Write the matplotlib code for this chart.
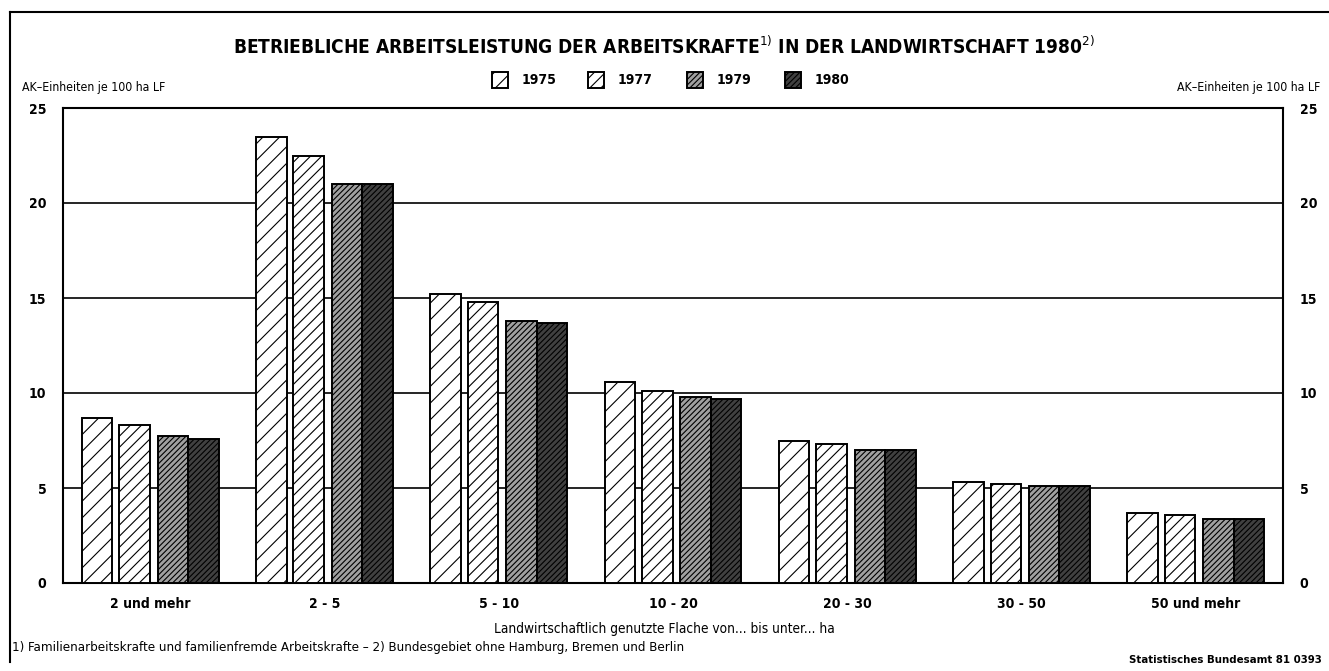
import numpy as np
import matplotlib.pyplot as plt
from matplotlib.patches import Rectangle
from matplotlib.lines import Line2D

plt.rcParams['font.family'] = ['DejaVu Sans']
plt.rcParams['font.stretch'] = 'condensed'
plt.rcParams['hatch.linewidth'] = 0.8

# ==================================================
# Data
# ==================================================

categories = ["2 und mehr", "2 - 5", "5 - 10", "10 - 20", "20 - 30", "30 - 50", "50 und mehr"]
years = ["1975", "1977", "1979", "1980"]

v1975 = [8.7, 23.5, 15.2, 10.6, 7.5, 5.3, 3.7]
v1977 = [8.3, 22.5, 14.8, 10.1, 7.3, 5.2, 3.6]
v1979 = [7.75, 21.0, 13.8, 9.8, 7.0, 5.1, 3.35]
v1980 = [7.6, 21.0, 13.7, 9.7, 7.0, 5.1, 3.35]

yticks = [0, 5, 10, 15, 20, 25]

# ==================================================
# Styles
# ==================================================

series = [v1975, v1977, v1979, v1980]
offsets = [-0.305, -0.09, 0.13, 0.305]
hatches = ["//", "///", "//////", "//////"]
faces = ["white", "white", "#a0a0a0", "#404040"]
width = 0.175

W, H = 1329, 671
fig = plt.figure(figsize=(W / 100, H / 100), dpi=100)
ax = fig.add_axes([63 / W, 1 - 583 / H, (1283 - 63) / W, (583 - 108) / H])

x = np.arange(len(categories))

for vals, off, hat, fc in zip(series, offsets, hatches, faces):
    ax.bar(
        x + off, vals, width,
        facecolor=fc, edgecolor="black", hatch=hat,
        linewidth=1.4, zorder=3
    )

ax.set_xlim(-0.5, len(categories) - 0.5)
ax.set_ylim(0, 25)
ax.set_yticks(yticks)
ax.set_yticklabels([str(t) for t in yticks])
ax.set_xticks(x)
ax.set_xticklabels(categories)
ax.tick_params(axis="x", length=0, labelsize=10, pad=10)
ax.tick_params(axis="y", length=0, labelsize=10, pad=12, right=True, labelright=True)
for lab in ax.get_yticklabels() + ax.get_xticklabels():
    lab.set_fontweight("bold")

for t in yticks[1:-1]:
    ax.axhline(t, color="black", linewidth=1.2, zorder=1)

for sp in ax.spines.values():
    sp.set_linewidth(1.5)

# ==================================================
# Texts
# ==================================================

fig.text(664 / W, 1 - 47 / H,
         r"BETRIEBLICHE ARBEITSLEISTUNG DER ARBEITSKRAFTE$^{1)}$ IN DER LANDWIRTSCHAFT 1980$^{2)}$",
         ha="center", va="center", fontsize=13.7, fontweight="bold")

fig.text(22 / W, 1 - 87 / H, "AK–Einheiten je 100 ha LF", ha="left", va="center", fontsize=8.8)
fig.text(1320 / W, 1 - 87 / H, "AK–Einheiten je 100 ha LF", ha="right", va="center", fontsize=8.8)

fig.text(664 / W, 1 - 629 / H, "Landwirtschaftlich genutzte Flache von... bis unter... ha",
         ha="center", va="center", fontsize=9.8)
fig.text(12 / W, 1 - 648 / H,
         "1) Familienarbeitskrafte und familienfremde Arbeitskrafte – 2) Bundesgebiet ohne Hamburg, Bremen und Berlin",
         ha="left", va="center", fontsize=9.5)
fig.text(1322 / W, 1 - 660 / H, "Statistisches Bundesamt 81 0393",
         ha="right", va="center", fontsize=8.2, fontweight="bold")

# legend boxes
leg_x = [492, 588, 687, 785]
for lx, yr, hat, fc in zip(leg_x, years, hatches, faces):
    fig.patches.append(Rectangle(
        (lx / W, 1 - 88 / H), 16 / W, 16 / H,
        transform=fig.transFigure, facecolor=fc, edgecolor="black",
        hatch=hat, linewidth=1.4
    ))
    fig.text((lx + 30) / W, 1 - 80 / H, yr, ha="left", va="center",
             fontsize=10, fontweight="bold")

# outer frame
fig.lines.append(Line2D([10 / W, 10 / W], [1 - 662 / H, 1 - 12 / H],
                        transform=fig.transFigure, color="black", linewidth=1.5))
fig.lines.append(Line2D([10 / W, 1.0], [1 - 12 / H, 1 - 12 / H],
                        transform=fig.transFigure, color="black", linewidth=1.5))

fig.savefig("out.png", dpi=100, facecolor="white")
